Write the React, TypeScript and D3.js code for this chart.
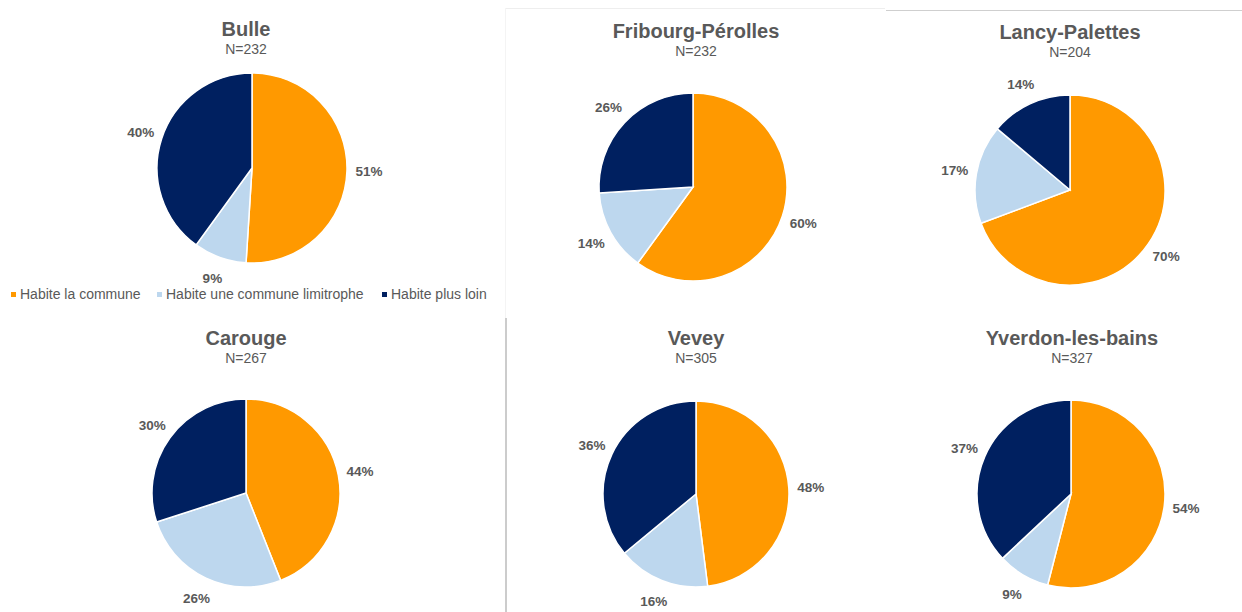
import { useEffect, useRef } from "react";
import * as d3 from "d3";

// data
const sites = ["Bulle", "Fribourg-Pérolles", "Lancy-Palettes", "Carouge", "Vevey", "Yverdon-les-bains"];
const nValues = [232, 232, 204, 267, 305, 327];
const categories = ["Habite la commune", "Habite une commune limitrophe", "Habite plus loin"];
const communeValues = [51, 60, 70, 44, 48, 54];
const limitropheValues = [9, 14, 17, 26, 16, 9];
const loinValues = [40, 26, 14, 30, 36, 37];

const colors = ["#FF9900", "#BDD7EE", "#002060"];

// layout of each small pie: center, radius, title baseline
const layout = [
  { cx: 252, cy: 168, r: 95, tx: 246, ty: 36 },
  { cx: 693, cy: 187, r: 94, tx: 696, ty: 38 },
  { cx: 1070, cy: 190, r: 95, tx: 1070, ty: 39 },
  { cx: 246, cy: 493, r: 94, tx: 246, ty: 345 },
  { cx: 696, cy: 494, r: 93, tx: 696, ty: 345 },
  { cx: 1071, cy: 494, r: 94, tx: 1072, ty: 345 },
];

export default function App() {
  const ref = useRef<SVGSVGElement>(null);

  useEffect(() => {
    const svg = d3.select(ref.current);
    svg.selectAll("*").remove();

    const font = "'Liberation Sans', Arial, sans-serif";

    // separator lines
    svg.append("line").attr("x1", 505).attr("x2", 885).attr("y1", 8.5).attr("y2", 8.5)
      .attr("stroke", "#eeeeee").attr("stroke-width", 1);
    svg.append("line").attr("x1", 886).attr("x2", 1242).attr("y1", 10.5).attr("y2", 10.5)
      .attr("stroke", "#cfcfcf").attr("stroke-width", 1);
    svg.append("line").attr("x1", 505.5).attr("x2", 505.5).attr("y1", 8).attr("y2", 318)
      .attr("stroke", "#f4f4f4").attr("stroke-width", 1);
    svg.append("line").attr("x1", 506).attr("x2", 506).attr("y1", 318).attr("y2", 612)
      .attr("stroke", "#cccccc").attr("stroke-width", 2);

    const pie = d3.pie<number>().sort(null).value((d) => d);

    sites.forEach((site, i) => {
      const L = layout[i];
      const values = [communeValues[i], limitropheValues[i], loinValues[i]];
      const arcs = pie(values);
      const arc = d3.arc<d3.PieArcDatum<number>>().innerRadius(0).outerRadius(L.r);
      const labelArc = d3.arc<d3.PieArcDatum<number>>().innerRadius(L.r + 22).outerRadius(L.r + 22);

      const g = svg.append("g").attr("transform", `translate(${L.cx},${L.cy})`);
      g.selectAll("path")
        .data(arcs)
        .join("path")
        .attr("d", arc)
        .attr("fill", (_, j) => colors[j])
        .attr("stroke", "#ffffff")
        .attr("stroke-width", 1.5);

      g.selectAll("text")
        .data(arcs)
        .join("text")
        .attr("transform", (d) => `translate(${labelArc.centroid(d)})`)
        .attr("text-anchor", "middle")
        .attr("dy", "0.35em")
        .attr("font-family", font)
        .attr("font-size", 13.5)
        .attr("font-weight", "bold")
        .attr("fill", "#595959")
        .text((d) => `${d.data}%`);

      svg.append("text")
        .attr("x", L.tx).attr("y", L.ty)
        .attr("text-anchor", "middle")
        .attr("font-family", font)
        .attr("font-size", 20)
        .attr("font-weight", "bold")
        .attr("fill", "#595959")
        .text(site);
      svg.append("text")
        .attr("x", L.tx).attr("y", L.ty + 18)
        .attr("text-anchor", "middle")
        .attr("font-family", font)
        .attr("font-size", 14)
        .attr("fill", "#595959")
        .text(`N=${nValues[i]}`);
    });

    // legend
    const legendX = [11, 157, 382];
    const legend = svg.append("g");
    categories.forEach((c, j) => {
      legend.append("rect").attr("x", legendX[j]).attr("y", 292).attr("width", 5).attr("height", 5)
        .attr("fill", colors[j]);
      legend.append("text").attr("x", legendX[j] + 9).attr("y", 299)
        .attr("font-family", font).attr("font-size", 14).attr("fill", "#595959")
        .text(c);
    });
  }, []);

  return (
    <svg
      ref={ref}
      width={1242}
      height={612}
      style={{ position: "absolute", left: 0, top: 0, background: "#ffffff" }}
    />
  );
}
